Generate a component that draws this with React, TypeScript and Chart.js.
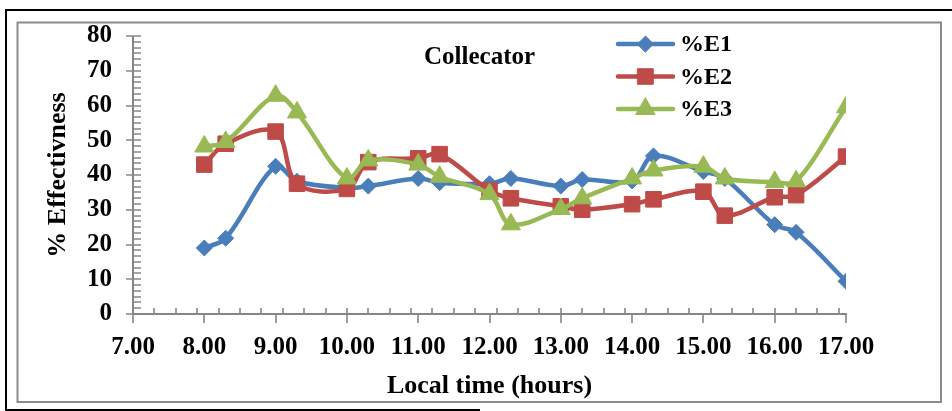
import React, { useEffect, useRef } from 'react';
import { Chart, registerables } from 'chart.js';

Chart.register(...registerables);

// ---- data ----
const times = [8.0, 8.3, 9.0, 9.3, 10.0, 10.3, 11.0, 11.3, 12.0, 12.3, 13.0, 13.3, 14.0, 14.3, 15.0, 15.3, 16.0, 16.3, 17.0];
const e1 = [19.0, 21.8, 42.5, 38.2, 36.3, 36.8, 39.0, 37.8, 37.5, 39.0, 36.8, 38.7, 38.3, 45.5, 41.0, 39.0, 25.7, 23.5, 9.4];
const e2 = [43.0, 49.0, 52.5, 37.5, 36.0, 43.7, 44.8, 46.0, 35.5, 33.3, 31.0, 30.0, 31.6, 33.0, 35.2, 28.3, 33.6, 34.2, 45.3];
const e3 = [48.2, 49.5, 62.8, 58.0, 39.0, 44.2, 43.0, 39.5, 34.5, 25.8, 30.2, 33.3, 39.0, 41.3, 42.4, 39.0, 38.0, 38.2, 59.5];
const seriesNames = ['%E1', '%E2', '%E3'];
const seriesValues = [e1, e2, e3];
const seriesColors = ['#4A7EBB', '#BE4B48', '#98B954'];
const seriesMarkers = ['rectRot', 'rect', 'triangle'];
const seriesMarkerRadius = [8, 11, 11];

const xMin = 7;
const xMax = 17;
const xStep = 1;
const xMinorStep = 0.3;
const yMin = 0;
const yMax = 80;
const yStep = 10;
const yMinorStep = 10 / 6;

const chartTitle = 'Collecator';
const xTitle = 'Local time (hours)';
const yTitle = '% Effectivness';

const FONT = "'Times New Roman', 'Liberation Serif', serif";
const AXIS_GREY = '#868686';

function drawMarker(ctx: CanvasRenderingContext2D, style: string, x: number, y: number, r: number, color: string) {
  ctx.save();
  ctx.fillStyle = color;
  ctx.strokeStyle = color;
  ctx.lineWidth = 1;
  ctx.beginPath();
  if (style === 'rectRot') {
    ctx.moveTo(x - r, y);
    ctx.lineTo(x, y - r);
    ctx.lineTo(x + r, y);
    ctx.lineTo(x, y + r);
    ctx.closePath();
  } else if (style === 'rect') {
    const s = r * Math.SQRT1_2;
    ctx.rect(x - s, y - s, 2 * s, 2 * s);
  } else {
    ctx.moveTo(x, y - r);
    ctx.lineTo(x + r * 0.866, y + r / 2);
    ctx.lineTo(x - r * 0.866, y + r / 2);
    ctx.closePath();
  }
  ctx.fill();
  ctx.stroke();
  ctx.restore();
}

const decorPlugin = {
  id: 'decor',
  beforeDraw(chart: any) {
    const ctx: CanvasRenderingContext2D = chart.ctx;
    const W = chart.width;
    const H = chart.height;
    ctx.save();
    ctx.fillStyle = '#ffffff';
    ctx.fillRect(0, 0, W, H);
    // outer black frame (left, top, bottom)
    ctx.strokeStyle = '#000000';
    ctx.lineWidth = 2;
    ctx.beginPath();
    ctx.moveTo(W, 10);
    ctx.lineTo(6, 10);
    ctx.lineTo(6, H);
    ctx.stroke();
    ctx.beginPath();
    ctx.moveTo(6, 410);
    ctx.lineTo(480, 410);
    ctx.stroke();
    // inner grey frame
    ctx.strokeStyle = '#8c8c8c';
    ctx.lineWidth = 2;
    ctx.strokeRect(17.5, 22.5, 923.5, 379.5);
    ctx.restore();
  },
  beforeDatasetsDraw(chart: any) {
    const ctx: CanvasRenderingContext2D = chart.ctx;
    const xs = chart.scales.x;
    const ys = chart.scales.y;
    const x0 = xs.getPixelForValue(xMin);
    const x1 = xs.getPixelForValue(xMax);
    const y0 = ys.getPixelForValue(yMin);
    const y1 = ys.getPixelForValue(yMax);
    ctx.save();
    ctx.strokeStyle = AXIS_GREY;
    ctx.lineWidth = 2;
    ctx.beginPath();
    ctx.moveTo(x0, y1);
    ctx.lineTo(x0, y0);
    ctx.moveTo(x0, y0);
    ctx.lineTo(x1 + 1, y0);
    ctx.stroke();
    ctx.lineWidth = 1.6;
    ctx.beginPath();
    // y major (cross)
    for (let v = yMin; v <= yMax + 1e-6; v += yStep) {
      const py = Math.round(ys.getPixelForValue(v));
      ctx.moveTo(x0 - 7, py);
      ctx.lineTo(x0 + 8, py);
    }
    // y minor (inside)
    for (let k = 0; ; k++) {
      const v = yMin + k * yMinorStep;
      if (v > yMax + 1e-6) break;
      const py = Math.round(ys.getPixelForValue(v));
      ctx.moveTo(x0, py);
      ctx.lineTo(x0 + 8, py);
    }
    // x major (below)
    for (let v = xMin; v <= xMax + 1e-6; v += xStep) {
      const px = Math.round(xs.getPixelForValue(v));
      ctx.moveTo(px, y0);
      ctx.lineTo(px, y0 + 9);
    }
    // x minor (above)
    for (let k = 1; ; k++) {
      const v = xMin + k * xMinorStep;
      if (v > xMax + 1e-6) break;
      const px = Math.round(xs.getPixelForValue(v));
      ctx.moveTo(px, y0 - 6);
      ctx.lineTo(px, y0);
    }
    ctx.stroke();
    ctx.restore();
  },
  afterDraw(chart: any) {
    const ctx: CanvasRenderingContext2D = chart.ctx;
    const area = chart.chartArea;
    ctx.save();
    ctx.fillStyle = '#000000';
    ctx.textBaseline = 'middle';
    ctx.textAlign = 'left';
    ctx.font = `bold 25px ${FONT}`;
    ctx.fillText(chartTitle, area.left + 291, area.top + 21.5);
    // legend
    const lx = area.left + 485;
    const ly = area.top + 8;
    ctx.font = `bold 24px ${FONT}`;
    for (let i = 0; i < seriesNames.length; i++) {
      const y = ly + i * 32.5;
      ctx.strokeStyle = seriesColors[i];
      ctx.lineWidth = 4.5;
      ctx.lineCap = 'round';
      ctx.beginPath();
      ctx.moveTo(lx, y);
      ctx.lineTo(lx + 55, y);
      ctx.stroke();
      drawMarker(ctx, seriesMarkers[i], lx + 27.5, y, seriesMarkerRadius[i], seriesColors[i]);
      ctx.fillStyle = '#000000';
      ctx.fillText(seriesNames[i], lx + 62, y + 1);
    }
    ctx.restore();
  },
};

export default function App() {
  const canvasRef = useRef<HTMLCanvasElement | null>(null);

  useEffect(() => {
    if (!canvasRef.current) return;
    const datasets = seriesNames.map((name, i) => ({
      label: name,
      data: times.map((t, j) => ({ x: t, y: seriesValues[i][j] })),
      borderColor: seriesColors[i],
      backgroundColor: seriesColors[i],
      borderWidth: 4.5,
      borderJoinStyle: 'round' as const,
      borderCapStyle: 'round' as const,
      tension: 0.35,
      pointStyle: seriesMarkers[i] as any,
      pointRadius: seriesMarkerRadius[i],
      pointBorderWidth: 1,
      pointBorderColor: seriesColors[i],
      pointBackgroundColor: seriesColors[i],
      order: seriesNames.length - i,
      fill: false,
    }));

    const chart = new Chart(canvasRef.current, {
      type: 'line',
      data: { datasets },
      options: {
        animation: false,
        responsive: false,
        devicePixelRatio: 1,
        events: [],
        layout: { padding: { left: 19, right: 106, top: 35, bottom: 9 } },
        plugins: {
          legend: { display: false },
          tooltip: { enabled: false },
          title: { display: false },
        },
        scales: {
          x: {
            type: 'linear',
            min: xMin,
            max: xMax,
            afterFit: (scale: any) => {
              scale.height = 88;
            },
            grid: { display: false, drawTicks: false },
            border: { display: false },
            ticks: {
              stepSize: xStep,
              padding: 19,
              color: '#000000',
              maxRotation: 0,
              autoSkip: false,
              font: { family: FONT, size: 25, weight: 'bold' },
              callback: (v: any) => Number(v).toFixed(2),
            },
            title: {
              display: true,
              text: xTitle,
              color: '#000000',
              padding: { top: 0, bottom: 0 },
              font: { family: FONT, size: 26, weight: 'bold' },
            },
          },
          y: {
            type: 'linear',
            min: yMin,
            max: yMax,
            afterFit: (scale: any) => {
              scale.width = 114;
            },
            grid: { display: false, drawTicks: false },
            border: { display: false },
            ticks: {
              stepSize: yStep,
              padding: 21,
              color: '#000000',
              font: { family: FONT, size: 25, weight: 'bold' },
            },
            title: {
              display: true,
              text: yTitle,
              color: '#000000',
              padding: { top: 24, bottom: 0 },
              font: { family: FONT, size: 26, weight: 'bold' },
            },
          },
        },
      },
      plugins: [decorPlugin],
    });
    return () => chart.destroy();
  }, []);

  return (
    <div style={{ position: 'absolute', left: 0, top: 0, width: 952, height: 411, background: '#fff' }}>
      <canvas ref={canvasRef} width={952} height={411} style={{ display: 'block' }} />
    </div>
  );
}
